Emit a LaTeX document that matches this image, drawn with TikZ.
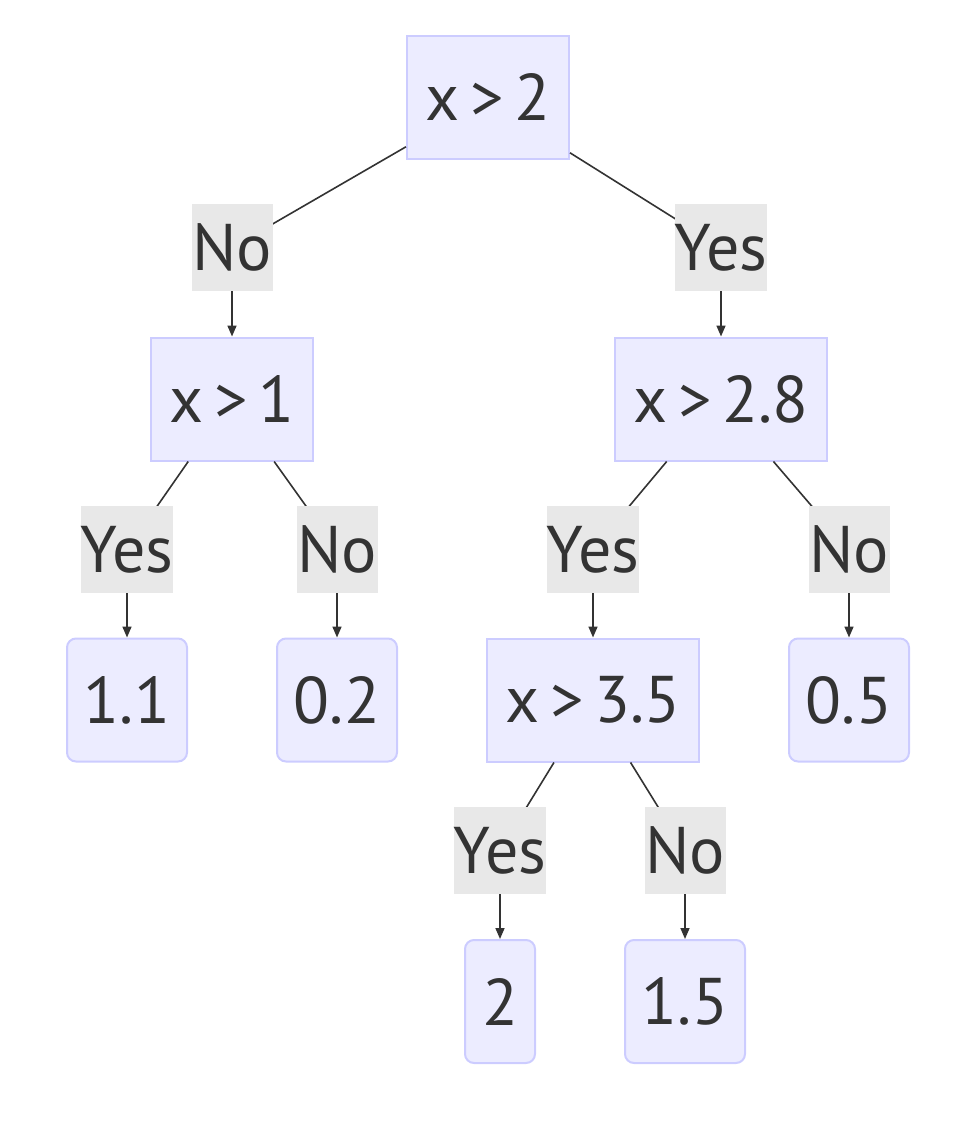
\documentclass[tikz,border=0pt]{standalone}
\usepackage{fontspec}
\setmainfont{PT Sans}
\usetikzlibrary{arrows.meta}
\definecolor{nodefill}{HTML}{ECECFF}
\definecolor{nodeline}{HTML}{CCCCFF}
\definecolor{lblfill}{HTML}{E8E8E8}
\definecolor{ink}{HTML}{333333}
\newcommand\gtsym{\hspace{0.17em}>\hspace{0.17em}}
\begin{document}
\begin{tikzpicture}[x=1pt,y=-1pt,
  txt/.style={text=ink,font=\fontsize{66}{80}\selectfont},
  decision/.style={txt,draw=nodeline,fill=nodefill,line width=2pt,minimum height=123pt,inner sep=0pt},
  leaf/.style={decision,rounded corners=9pt},
  lbl/.style={txt,fill=lblfill,minimum height=87pt,inner sep=0pt},
  conn/.style={draw=ink,line width=1.6pt},
  arr/.style={conn,-{Triangle[length=11pt,width=9pt]}}
]
\useasboundingbox (0,0) rectangle (968,1148);
\coordinate (lA1) at (232,247.5);
\coordinate (lA2) at (721,247.5);
\coordinate (lB1) at (127,549.5);
\coordinate (lB2) at (337,549.5);
\coordinate (lC1) at (593,549.5);
\coordinate (lC2) at (849,549.5);
\coordinate (lF1) at (500,850.5);
\coordinate (lF2) at (685,850.5);

\node[decision,minimum width=162pt] (A) at (488,97.5) {x\gtsym 2};
\node[decision,minimum width=162pt] (B) at (232,399) {x\gtsym 1};
\node[decision,minimum width=212pt] (C) at (721,399) {x\gtsym 2.8};
\node[decision,minimum width=212pt] (F) at (593,700) {x\gtsym 3.5};
\node[leaf,minimum width=120pt] (D) at (127,700) {1.1};
\node[leaf,minimum width=120pt] (E) at (337,700) {0.2};
\node[leaf,minimum width=120pt] (G) at (849,700) {0.5};
\node[leaf,minimum width=70pt] (H) at (500,1001.5) {2};
\node[leaf,minimum width=120pt] (I) at (685,1001.5) {1.5};

\draw[conn] (A.211) -- (lA1);
\draw[conn] (A.326) -- (lA2);
\draw[conn] (B.235.3) -- (lB1);
\draw[conn] (B.304.7) -- (lB2);
\draw[conn] (C.229.5) -- (lC1);
\draw[conn] (C.310.5) -- (lC2);
\draw[conn] (F.238.5) -- (lF1);
\draw[conn] (F.301.5) -- (lF2);

\node[lbl,minimum width=81pt] (eA1) at (lA1) {No};
\node[lbl,minimum width=92pt] (eA2) at (lA2) {Yes};
\node[lbl,minimum width=92pt] (eB1) at (lB1) {Yes};
\node[lbl,minimum width=81pt] (eB2) at (lB2) {No};
\node[lbl,minimum width=92pt] (eC1) at (lC1) {Yes};
\node[lbl,minimum width=81pt] (eC2) at (lC2) {No};
\node[lbl,minimum width=92pt] (eF1) at (lF1) {Yes};
\node[lbl,minimum width=81pt] (eF2) at (lF2) {No};

\draw[arr] (eA1.south) -- (B.north);
\draw[arr] (eA2.south) -- (C.north);
\draw[arr] (eB1.south) -- (D.north);
\draw[arr] (eB2.south) -- (E.north);
\draw[arr] (eC1.south) -- (F.north);
\draw[arr] (eC2.south) -- (G.north);
\draw[arr] (eF1.south) -- (H.north);
\draw[arr] (eF2.south) -- (I.north);
\end{tikzpicture}
\end{document}
